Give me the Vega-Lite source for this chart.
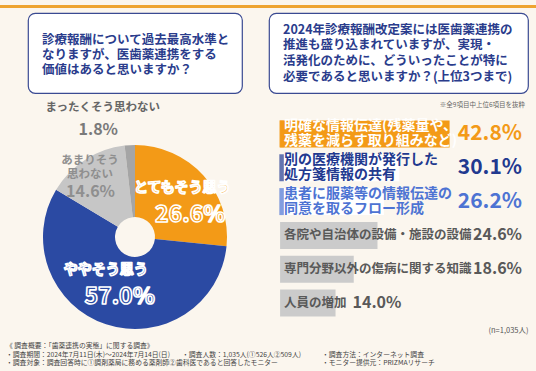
{
  "$schema": "https://vega.github.io/schema/vega-lite/v6.json",
  "background": "#fbf6ee",
  "padding": 0,
  "config": {
    "font": "Noto Sans CJK JP",
    "view": {"stroke": null}
  },
  "datasets": {
    "q1": [
      {"answer": "とてもそう思う", "label": "とてもそう思う", "share": 0.266, "level": 1},
      {"answer": "ややそう思う", "label": "ややそう思う", "share": 0.570, "level": 2},
      {"answer": "あまりそう思わない", "label": "あまりそう\n思わない", "share": 0.146, "level": 3},
      {"answer": "まったくそう思わない", "label": "まったくそう思わない", "share": 0.018, "level": 4}
    ],
    "q2": [
      {"item": "明確な情報伝達(残薬量や、\n残薬を減らす取り組みなど)", "share": 0.428},
      {"item": "別の医療機関が発行した\n処方箋情報の共有", "share": 0.301},
      {"item": "患者に服薬等の情報伝達の\n同意を取るフロー形成", "share": 0.262},
      {"item": "各院や自治体の設備・施設の設備", "share": 0.246},
      {"item": "専門分野以外の傷病に関する知識", "share": 0.186},
      {"item": "人員の増加", "share": 0.140}
    ],
    "box1": [{"question": "診療報酬について過去最高水準と\nなりますが、医歯薬連携をする\n価値はあると思いますか？"}],
    "box2": [{"question": "2024年診療報酬改定案には医歯薬連携の\n推進も盛り込まれていますが、実現・\n活発化のために、どういったことが特に\n必要であると思いますか？(上位3つまで)", "note": "※全9項目中上位6項目を抜粋"}],
    "foot1": [{"lines": "《 調査概要：「歯薬連携の実態」に関する調査》\n・調査期間：2024年7月11日(木)～2024年7月14日(日)\n・調査対象：調査回答時に①調剤薬局に務める薬剤師②歯科医であると回答したモニター"}],
    "foot2": [{"lines": "・調査人数：1,035人(①526人②509人)"}],
    "foot3": [{"lines": "・調査方法：インターネット調査\n・モニター提供元：PRIZMAリサーチ"}],
    "blank": [{}]
  },
  "columns": 3,
  "bounds": "flush",
  "spacing": {"row": 5, "column": 0},
  "concat": [
    {"width": 28, "height": 3, "view": {"fill": "#eea431", "stroke": null}, "data": {"name": "blank"}, "mark": "text", "encoding": {"text": {"value": ""}}},
    {"width": 241, "height": 3, "view": {"fill": "#eea431", "stroke": null}, "data": {"name": "blank"}, "mark": "text", "encoding": {"text": {"value": ""}}},
    {"width": 267, "height": 3, "view": {"fill": "#eea431", "stroke": null}, "data": {"name": "blank"}, "mark": "text", "encoding": {"text": {"value": ""}}},

    {"width": 28, "height": 80, "data": {"name": "blank"}, "mark": "text", "encoding": {"text": {"value": ""}}},
    {
      "width": 214, "height": 80,
      "view": {"fill": "#ffffff", "stroke": "#3a4a92", "strokeWidth": 1.2, "cornerRadius": 7},
      "data": {"name": "box1"},
      "mark": {"type": "text", "align": "left", "baseline": "top", "dx": -93, "dy": -19.5, "lineBreak": "\n", "lineHeight": 15, "fontSize": 12.5, "fontWeight": "bold", "color": "#2a3c8c"},
      "encoding": {"text": {"field": "question"}}
    },
    {
      "width": 259, "height": 80,
      "view": {"fill": "#ffffff", "stroke": "#3a4a92", "strokeWidth": 1.2, "cornerRadius": 7},
      "data": {"name": "box2"},
      "layer": [
        {
          "mark": {"type": "text", "align": "left", "baseline": "top", "dx": -115.5, "dy": -29.5, "lineBreak": "\n", "lineHeight": 15.7, "fontSize": 12.5, "fontWeight": "bold", "color": "#2a3c8c"},
          "encoding": {"text": {"field": "question"}}
        },
        {
          "mark": {"type": "text", "align": "right", "baseline": "middle", "dx": 126.5, "dy": 52, "fontSize": 6.5, "color": "#666666"},
          "encoding": {"text": {"field": "note"}}
        }
      ]
    },

    {"width": 28, "height": 236, "data": {"name": "blank"}, "mark": "text", "encoding": {"text": {"value": ""}}},
    {
      "width": 214, "height": 236,
      "data": {"name": "q1"},
      "encoding": {
        "theta": {"field": "share", "type": "quantitative", "stack": true},
        "order": {"field": "level", "type": "quantitative"}
      },
      "layer": [
        {
          "mark": {"type": "arc", "outerRadius": 92, "innerRadius": 20, "yOffset": 21},
          "encoding": {
            "color": {
              "field": "answer", "type": "nominal",
              "scale": {
                "domain": ["とてもそう思う", "ややそう思う", "あまりそう思わない", "まったくそう思わない"],
                "range": ["#f39a17", "#2b4aa3", "#c6c6c6", "#a5a5a5"]
              },
              "legend": null
            }
          }
        },
        {
          "mark": {"type": "text", "radius": 65, "yOffset": 21, "dx": -1, "dy": -5, "fontSize": 14, "fontWeight": "bold", "fill": "#f39a17", "stroke": "#ffffff", "strokeWidth": 1.6, "strokeJoin": "round"},
          "encoding": {"text": {"condition": {"test": "datum.level == 1", "field": "label"}, "value": ""}}
        },
        {
          "mark": {"type": "text", "radius": 65, "yOffset": 21, "dx": 7, "dy": 22, "fontSize": 23, "fontWeight": "bold", "fill": "#f39a17", "stroke": "#ffffff", "strokeWidth": 1.6, "strokeJoin": "round"},
          "encoding": {"text": {"condition": {"test": "datum.level == 1", "field": "share", "type": "quantitative", "format": ".1%"}, "value": ""}}
        },
        {
          "mark": {"type": "text", "radius": 55, "yOffset": 21, "dx": -12, "dy": -19, "fontSize": 14, "fontWeight": "bold", "fill": "#2b4aa3", "stroke": "#ffffff", "strokeWidth": 1.6, "strokeJoin": "round"},
          "encoding": {"text": {"condition": {"test": "datum.level == 2", "field": "label"}, "value": ""}}
        },
        {
          "mark": {"type": "text", "radius": 55, "yOffset": 21, "dx": 2, "dy": 8, "fontSize": 23, "fontWeight": "bold", "fill": "#2b4aa3", "stroke": "#ffffff", "strokeWidth": 1.6, "strokeJoin": "round"},
          "encoding": {"text": {"condition": {"test": "datum.level == 2", "field": "share", "type": "quantitative", "format": ".1%"}, "value": ""}}
        },
        {
          "mark": {"type": "text", "radius": 85, "yOffset": 21, "dx": 1, "dy": -5, "fontSize": 11.5, "fontWeight": "bold", "fill": "#8f8f8f", "lineBreak": "\n", "lineHeight": 14.5},
          "encoding": {"text": {"condition": {"test": "datum.level == 3", "field": "label"}, "value": ""}}
        },
        {
          "mark": {"type": "text", "radius": 60, "yOffset": 21, "dx": -12, "dy": 5, "fontSize": 16, "fontWeight": "bold", "fill": "#8f8f8f"},
          "encoding": {"text": {"condition": {"test": "datum.level == 3", "field": "share", "type": "quantitative", "format": ".1%"}, "value": ""}}
        },
        {
          "transform": [
            {"joinaggregate": [{"op": "sum", "field": "share", "as": "total"}]},
            {"filter": "datum.level == 4"}
          ],
          "mark": {"type": "text", "radius": 129, "yOffset": 21, "align": "right", "dx": 25, "fontSize": 11.5, "fontWeight": "bold", "fill": "#666666"},
          "encoding": {
            "theta": {"field": "total", "type": "quantitative", "stack": null},
            "text": {"field": "label"}
          }
        },
        {
          "transform": [
            {"joinaggregate": [{"op": "sum", "field": "share", "as": "total"}]},
            {"filter": "datum.level == 4"}
          ],
          "mark": {"type": "text", "radius": 107, "yOffset": 21, "align": "right", "dx": -17, "fontSize": 16, "fontWeight": "bold", "fill": "#7a7a7a"},
          "encoding": {
            "theta": {"field": "total", "type": "quantitative", "stack": null},
            "text": {"field": "share", "type": "quantitative", "format": ".1%"}
          }
        }
      ]
    },
    {
      "width": 259, "height": 225,
      "data": {"name": "q2"},
      "encoding": {
        "y": {"field": "item", "type": "nominal", "sort": null, "scale": {"range": [19, 222], "paddingInner": 0.2, "paddingOuter": 0.1}, "axis": null},
        "color": {
          "condition": [
            {"test": "datum.share > 0.4", "value": "#f39a17"},
            {"test": "datum.share > 0.3", "value": "#22398f"},
            {"test": "datum.share > 0.25", "value": "#4d73d3"}
          ],
          "value": "#595959"
        }
      },
      "layer": [
        {
          "mark": {"type": "bar"},
          "encoding": {
            "x": {"field": "share", "type": "quantitative", "scale": {"domain": [-0.028, 0.626], "nice": false},
              "axis": {"title": "(n=1,035人)", "titleAnchor": "end", "labels": false, "ticks": false, "domain": false, "grid": false, "titleFontSize": 7.5, "titleFontWeight": "normal", "titleColor": "#555555", "titlePadding": 3}},
            "fill": {
              "condition": [
                {"test": "datum.share > 0.4", "value": "#f39a17"},
                {"test": "datum.share > 0.25", "value": "#ffffff"}
              ],
              "value": "#cbcbcb"
            }
          }
        },
        {
          "transform": [{"filter": "datum.share > 0.25"}],
          "mark": {"type": "tick", "orient": "vertical", "thickness": 4.5, "size": 27, "xOffset": 1.5},
          "encoding": {
            "x": {"datum": 0, "type": "quantitative"}
          }
        },
        {
          "transform": [{"filter": "datum.share > 0.4"}],
          "mark": {"type": "text", "align": "left", "dx": 4, "dy": -7.5, "lineBreak": "\n", "lineHeight": 15, "fontSize": 14, "fontWeight": "bold"},
          "encoding": {
            "x": {"datum": 0, "type": "quantitative"},
            "text": {"field": "item"},
            "color": {"value": "#ffffff"}
          }
        },
        {
          "transform": [{"filter": "datum.share > 0.25 && datum.share <= 0.4"}],
          "mark": {"type": "text", "align": "left", "dx": 4, "dy": -7.5, "lineBreak": "\n", "lineHeight": 15, "fontSize": 14, "fontWeight": "bold"},
          "encoding": {
            "x": {"datum": 0, "type": "quantitative"},
            "text": {"field": "item"}
          }
        },
        {
          "transform": [{"filter": "datum.share <= 0.25"}],
          "mark": {"type": "text", "align": "left", "dx": 4, "fontSize": 12.5, "fontWeight": "bold"},
          "encoding": {
            "x": {"datum": 0, "type": "quantitative"},
            "text": {"field": "item"}
          }
        },
        {
          "transform": [{"filter": "length(datum.item) >= 10"}],
          "mark": {"type": "text", "align": "right", "dx": -6, "fontWeight": "bold"},
          "encoding": {
            "x": {"value": "width"},
            "text": {"field": "share", "type": "quantitative", "format": ".1%"},
            "size": {"condition": {"test": "datum.share > 0.25", "value": 21}, "value": 16}
          }
        },
        {
          "transform": [{"filter": "length(datum.item) < 10"}],
          "mark": {"type": "text", "align": "left", "dx": 17, "fontWeight": "bold"},
          "encoding": {
            "x": {"field": "share", "type": "quantitative"},
            "text": {"field": "share", "type": "quantitative", "format": ".1%"},
            "size": {"value": 16}
          }
        }
      ]
    },

    {
      "width": 28, "height": 29,
      "data": {"name": "foot1"},
      "mark": {"type": "text", "align": "left", "baseline": "top", "dx": -8, "dy": -10.5, "lineBreak": "\n", "lineHeight": 8.6, "fontSize": 6.8, "color": "#444444"},
      "encoding": {"text": {"field": "lines"}}
    },
    {
      "width": 241, "height": 29,
      "data": {"name": "foot2"},
      "mark": {"type": "text", "align": "left", "baseline": "top", "dx": 33.5, "dy": -2, "lineBreak": "\n", "lineHeight": 8.6, "fontSize": 6.8, "color": "#444444"},
      "encoding": {"text": {"field": "lines"}}
    },
    {
      "width": 267, "height": 29,
      "data": {"name": "foot3"},
      "mark": {"type": "text", "align": "left", "baseline": "top", "dx": -80.5, "dy": -2, "lineBreak": "\n", "lineHeight": 8.6, "fontSize": 6.8, "color": "#444444"},
      "encoding": {"text": {"field": "lines"}}
    },

    {"width": 28, "height": 3, "view": {"fill": "#eea431", "stroke": null}, "data": {"name": "blank"}, "mark": "text", "encoding": {"text": {"value": ""}}},
    {"width": 241, "height": 3, "view": {"fill": "#eea431", "stroke": null}, "data": {"name": "blank"}, "mark": "text", "encoding": {"text": {"value": ""}}},
    {"width": 267, "height": 3, "view": {"fill": "#eea431", "stroke": null}, "data": {"name": "blank"}, "mark": "text", "encoding": {"text": {"value": ""}}}
  ]
}
